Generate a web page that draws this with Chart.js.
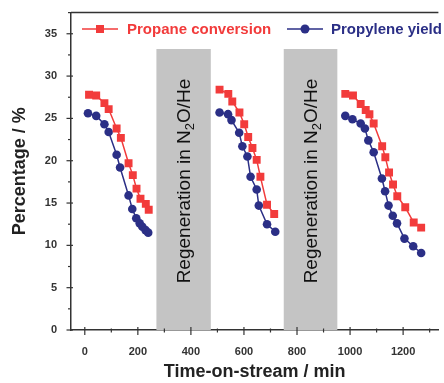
<!DOCTYPE html>
<html>
<head>
<meta charset="utf-8">
<script src="https://cdn.jsdelivr.net/npm/chart.js@4"></script>
<style>
  html, body { margin: 0; padding: 0; background: #fff; overflow: hidden; }
  #wrap { width: 444px; height: 383px; position: relative; }
</style>
</head>
<body>
<div id="wrap"><canvas id="grafica"></canvas></div>
<script>
// time on stream (min) and values (%) for each of the three reaction cycles
var propaneTime = [
    [16, 43, 74, 90, 120, 136, 165, 181, 195, 210, 230, 241],
    [508, 541, 556, 583, 601, 616, 632, 648, 662, 687, 714],
    [982, 1011, 1040, 1059, 1073, 1089, 1121, 1133, 1147, 1162, 1178, 1208, 1240, 1268]
];
var propaneConversion = [
    [27.8, 27.7, 26.8, 26.1, 23.8, 22.7, 19.7, 18.3, 16.7, 15.5, 14.9, 14.2],
    [28.4, 27.9, 27.0, 25.7, 24.3, 22.8, 21.5, 20.1, 18.1, 14.8, 13.7],
    [27.9, 27.7, 26.7, 26.0, 25.5, 24.4, 21.7, 20.4, 18.6, 17.2, 15.8, 14.5, 12.7, 12.1]
];
var yieldTime = [
    [12, 43, 74, 90, 120, 133, 165, 179, 194, 207, 217, 229, 239],
    [508, 540, 553, 582, 594, 613, 625, 648, 656, 687, 718],
    [982, 1009, 1040, 1056, 1069, 1089, 1120, 1132, 1145, 1161, 1177, 1205, 1238, 1268]
];
var propyleneYield = [
    [25.6, 25.3, 24.3, 23.4, 20.7, 19.2, 15.9, 14.3, 13.2, 12.6, 12.2, 11.8, 11.5],
    [25.7, 25.5, 24.8, 23.3, 21.7, 20.5, 18.1, 16.6, 14.7, 12.5, 11.6],
    [25.3, 24.9, 24.4, 23.8, 22.4, 21.0, 17.9, 16.4, 14.7, 13.5, 12.6, 10.8, 9.9, 9.1]
];
// regeneration windows (min) and the band height (%)
var regenStart = [270, 750];
var regenEnd = [475, 952];
var regenTop = 33.2;
var regenLabel = ['Regeneration in N', '2', 'O/He'];

var xTicks = [0, 200, 400, 600, 800, 1000, 1200];
var yTicks = [0, 5, 10, 15, 20, 25, 30, 35];
var seriesNames = ['Propane conversion', 'Propylene yield'];

var RED = '#f23b3b';
var BLUE = '#2b2f86';
var AXIS = '#333333';
var FONT = '"Liberation Sans", Arial, Helvetica, sans-serif';

function puntos(t, v) {
    return t.map(function (x, i) { return { x: x, y: v[i] }; });
}

var datasets = [];
for (var c = 0; c < 3; c++) {
    datasets.push({
        label: seriesNames[0],
        data: puntos(propaneTime[c], propaneConversion[c]),
        borderColor: RED,
        backgroundColor: RED,
        borderWidth: 1.5,
        pointStyle: 'rect',
        pointRadius: 5.6,
        pointBorderWidth: 0,
        tension: 0
    });
}
for (var c = 0; c < 3; c++) {
    datasets.push({
        label: seriesNames[1],
        data: puntos(yieldTime[c], propyleneYield[c]),
        borderColor: BLUE,
        backgroundColor: BLUE,
        borderWidth: 1.5,
        pointStyle: 'circle',
        pointRadius: 4.3,
        pointBorderWidth: 0,
        tension: 0
    });
}

// gray regeneration bands with their rotated labels
var bandas = {
    id: 'bandas',
    beforeDatasetsDraw: function (chart) {
        var ctx = chart.ctx, xs = chart.scales.x, ys = chart.scales.y;
        ctx.save();
        for (var i = 0; i < regenStart.length; i++) {
            var x0 = xs.getPixelForValue(regenStart[i]);
            var x1 = xs.getPixelForValue(regenEnd[i]);
            var yt = ys.getPixelForValue(regenTop);
            var yb = ys.getPixelForValue(0);
            ctx.fillStyle = '#c4c4c4';
            ctx.fillRect(x0, yt, x1 - x0, yb - yt);

            // label, running bottom to top
            var big = '19px ' + FONT, small = '13px ' + FONT;
            ctx.font = big;
            var w1 = ctx.measureText(regenLabel[0]).width;
            var w3 = ctx.measureText(regenLabel[2]).width;
            ctx.font = small;
            var w2 = ctx.measureText(regenLabel[1]).width;
            var total = w1 + w2 + w3;
            ctx.save();
            ctx.translate((x0 + x1) / 2 + 1, 181);
            ctx.rotate(-Math.PI / 2);
            ctx.fillStyle = '#111';
            ctx.textBaseline = 'middle';
            ctx.textAlign = 'left';
            var sx = -total / 2;
            ctx.font = big;
            ctx.fillText(regenLabel[0], sx, 0);
            ctx.font = small;
            ctx.fillText(regenLabel[1], sx + w1, 6);
            ctx.font = big;
            ctx.fillText(regenLabel[2], sx + w1 + w2, 0);
            ctx.restore();
        }
        ctx.restore();
    },
    afterDraw: function (chart) {
        var ctx = chart.ctx, xs = chart.scales.x, ys = chart.scales.y;
        var area = chart.chartArea;
        ctx.save();
        ctx.strokeStyle = AXIS;
        ctx.lineWidth = 1.5;
        // top frame line
        ctx.beginPath();
        ctx.moveTo(area.left, area.top);
        ctx.lineTo(area.right, area.top);
        ctx.stroke();
        // y ticks, major and minor
        ctx.lineWidth = 1.2;
        for (var v = 0; v <= 37.5; v += 2.5) {
            var py = ys.getPixelForValue(v);
            var major = v % 5 === 0;
            ctx.beginPath();
            ctx.moveTo(area.left - (major ? 4.5 : 3), py);
            ctx.lineTo(area.left + (major ? 2 : 0), py);
            ctx.stroke();
        }
        // x ticks, major and minor
        for (var t = 0; t <= 1300; t += 100) {
            var px = xs.getPixelForValue(t);
            var mj = t % 200 === 0;
            ctx.beginPath();
            ctx.moveTo(px, area.bottom - (mj ? 3 : 1.5));
            ctx.lineTo(px, area.bottom + (mj ? 5 : 2.5));
            ctx.stroke();
        }
        ctx.restore();

        // legend: line + marker + text
        var ly = 29;
        ctx.save();
        ctx.lineWidth = 1.5;
        ctx.strokeStyle = RED;
        ctx.beginPath(); ctx.moveTo(82, ly); ctx.lineTo(118, ly); ctx.stroke();
        ctx.fillStyle = RED;
        ctx.fillRect(96, ly - 4, 8, 8);
        ctx.font = 'bold 15px ' + FONT;
        ctx.textBaseline = 'middle';
        ctx.fillText(seriesNames[0], 127, ly + 1);

        ctx.strokeStyle = BLUE;
        ctx.beginPath(); ctx.moveTo(287, ly); ctx.lineTo(323, ly); ctx.stroke();
        ctx.fillStyle = BLUE;
        ctx.beginPath(); ctx.arc(305, ly, 4.5, 0, Math.PI * 2); ctx.fill();
        ctx.fillText(seriesNames[1], 331, ly + 1);
        ctx.restore();
    }
};

var ctx = document.getElementById('grafica');

new Chart(ctx, {
    type: 'scatter',
    data: { datasets: datasets },
    options: {
        responsive: true,
        maintainAspectRatio: false,
        animation: false,
        showLine: true,
        layout: { padding: { top: 12, right: 0, left: 0, bottom: 0 } },
        plugins: {
            legend: { display: false },
            tooltip: { enabled: false }
        },
        scales: {
            x: {
                type: 'linear',
                min: -52,
                max: 1333,
                afterBuildTicks: function (s) {
                    s.ticks = xTicks.map(function (v) { return { value: v }; });
                },
                afterFit: function (s) { s.height = 53; },
                grid: { display: false },
                border: { display: true, color: AXIS, width: 1.5 },
                ticks: {
                    padding: 7,
                    color: AXIS,
                    maxRotation: 0,
                    callback: function (v) { return String(v); },
                    font: { family: FONT, size: 11, weight: 'bold' }
                },
                title: {
                    display: true,
                    text: 'Time-on-stream / min',
                    color: '#222',
                    padding: { top: 0, bottom: 0 },
                    font: { family: FONT, size: 18, weight: 'bold' }
                }
            },
            y: {
                min: 0,
                max: 37.5,
                afterBuildTicks: function (s) {
                    s.ticks = yTicks.map(function (v) { return { value: v }; });
                },
                afterFit: function (s) { s.width = 71; },
                grid: { display: false },
                border: { display: true, color: AXIS, width: 1.5 },
                ticks: {
                    padding: 6,
                    color: AXIS,
                    callback: function (v) { return String(v); },
                    font: { family: FONT, size: 11, weight: 'bold' }
                },
                title: {
                    display: true,
                    text: 'Percentage / %',
                    color: '#222',
                    padding: { top: 9, bottom: 0 },
                    font: { family: FONT, size: 18, weight: 'bold' }
                }
            }
        }
    },
    plugins: [bandas]
});
</script>
</body>
</html>
